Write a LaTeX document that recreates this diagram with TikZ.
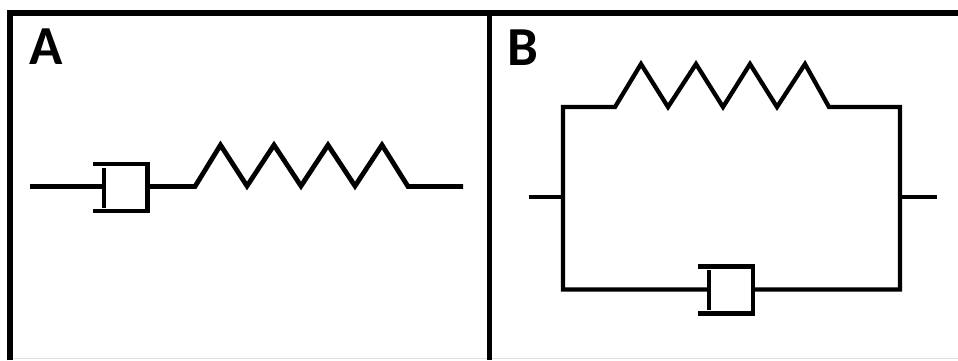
\documentclass[tikz,border=0pt]{standalone}
\usepackage{fontspec}
\setmainfont{Carlito}
\tikzset{
  x=1pt,y=-1pt,
  frameline/.style={line width=5.5pt,black},
  divider/.style={line width=4.5pt,black},
  wire/.style={line width=4.3pt,black,line join=miter},
  wirea/.style={line width=4.8pt,black,line join=miter},
  cylinder/.style={line width=4.8pt,black,line join=miter},
  piston/.style={line width=4.8pt,black},
  panellabel/.style={font=\fontsize{55}{55}\selectfont\bfseries,inner sep=0pt,anchor=base west,text=black},
}
\begin{document}
\begin{tikzpicture}
\useasboundingbox[fill=white] (0,0) rectangle (958,360);
% frame
\coordinate (tl) at (10,13);
\coordinate (tr) at (958,13);
\coordinate (bl) at (10,360);
\coordinate (dt) at (489.5,13);
\coordinate (db) at (489.5,360);
\draw[line width=1pt,black!12] (13,358.5) -- (958,358.5);
\draw[frameline] (bl) -- (tl) -- (tr);
\draw[divider] (dt) -- (db);
% labels
\node[panellabel] (la) at (29.5,64) {A};
\node[panellabel] (lb) at (507.5,65.5) {B};
% Panel A
\coordinate (a0) at (30,186.5);
\coordinate (ap) at (104,186.5);
\coordinate (ac) at (147.5,186.5);
\coordinate (as) at (195,186.5);
\coordinate (ae) at (408,186.5);
\coordinate (af) at (463,186.5);
\draw[wirea] (a0) -- (ap);
\draw[wirea] (ac) -- (as) -- (220.5,145) -- (247,186) -- (274,145) -- (301,186) -- (328,145) -- (355,186) -- (382,145) -- (ae) -- (af);
\draw[piston] (ap |- 0,168) -- (ap |- 0,208);
\draw[cylinder] (93,164) -- (147.5,164) -- (147.5,211) -- (93,211);
% Panel B
\coordinate (bs0) at (529,197);
\coordinate (bl0) at (563,197);
\coordinate (bs1) at (937,197);
\coordinate (br0) at (900,197);
\coordinate (bp) at (709,289.5);
\coordinate (bc) at (753,289.5);
\draw[wire] (bs0) -- (bl0);
\draw[wire] (br0) -- (bs1);
\draw[wire] (bp) -- (bl0 |- bp) -- (563,107) -- (615,107) -- (641,64) -- (668,107) -- (696,64) -- (723,107) -- (750,64) -- (777,107) -- (805,64) -- (829,107) -- (900,107) -- (900,289.5) -- (bc);
\draw[piston] (bp |- 0,270) -- (bp |- 0,310);
\draw[cylinder] (698,266.7) -- (753,266.7) -- (753,313.7) -- (698,313.7);
\end{tikzpicture}
\end{document}
